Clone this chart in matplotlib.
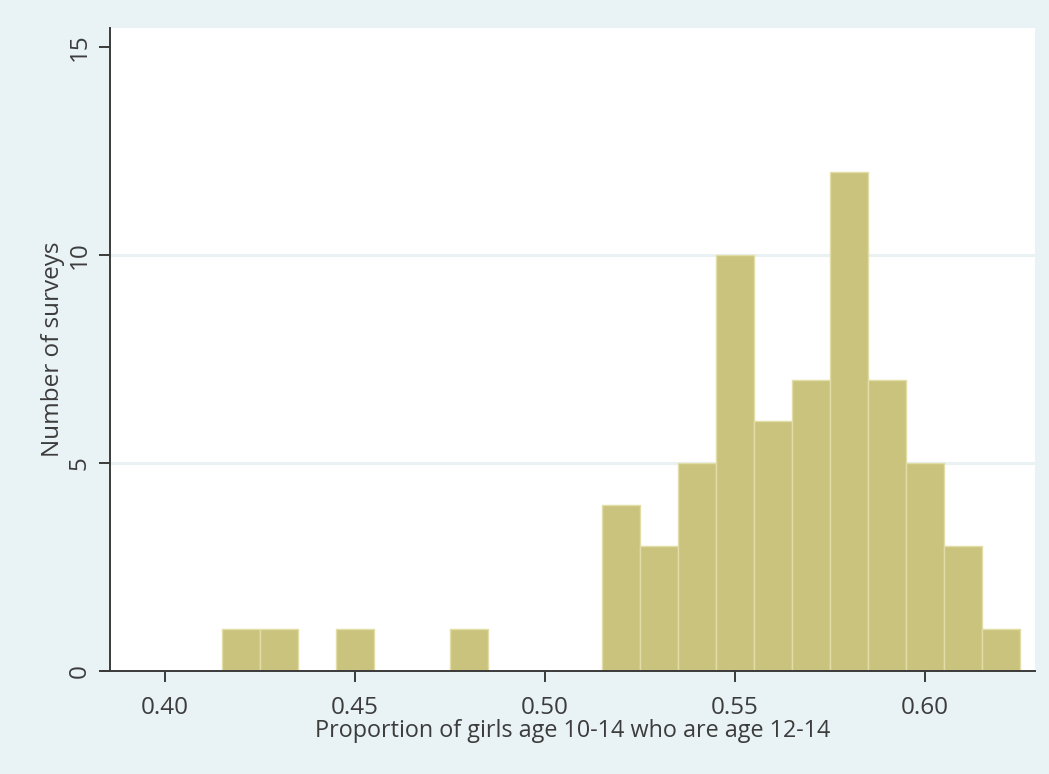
import matplotlib
matplotlib.use("Agg")
import matplotlib.pyplot as plt
import numpy as np

# Histogram of survey-level proportions, bin width 0.01
bin_left = [0.415, 0.425, 0.445, 0.475, 0.515, 0.525, 0.535, 0.545,
            0.555, 0.565, 0.575, 0.585, 0.595, 0.605, 0.615]
counts = [1, 1, 1, 1, 4, 3, 5, 10, 6, 7, 12, 7, 5, 3, 1]
bin_width = 0.01

x_ticks = [0.40, 0.45, 0.50, 0.55, 0.60]
x_tick_labels = ["0.40", "0.45", "0.50", "0.55", "0.60"]
y_ticks = [0, 5, 10, 15]
y_grid = [5, 10]

x_label = "Proportion of girls age 10-14 who are age 12-14"
y_label = "Number of surveys"

plt.rcParams['font.family'] = ['Open Sans', 'DejaVu Sans']

outer_bg = "#E9F2F5"
bar_color = "#CAC37E"
bar_edge = "#E2DDA6"
axis_color = "#3A3A3A"
text_color = "#3C3C3C"

fig = plt.figure(figsize=(10.49, 7.74), dpi=100)
fig.patch.set_facecolor(outer_bg)
ax = fig.add_axes([110 / 1049, (774 - 671) / 774, (1035 - 110) / 1049, (671 - 28) / 774])
ax.set_facecolor("white")

for g in y_grid:
    ax.axhline(g, color="#EAF1F3", lw=2.2, zorder=0)

ax.bar(bin_left, counts, width=bin_width, align="edge", color=bar_color,
       edgecolor=bar_edge, linewidth=1.0, zorder=2)

ax.set_xlim(0.3855, 0.629)
ax.set_ylim(0, 15.46)

ax.set_xticks(x_ticks)
ax.set_xticklabels(x_tick_labels)
ax.set_yticks(y_ticks)
ax.set_yticklabels([str(v) for v in y_ticks], rotation=90, va="center")

for side in ("top", "right"):
    ax.spines[side].set_visible(False)
for side in ("left", "bottom"):
    ax.spines[side].set_color(axis_color)
    ax.spines[side].set_linewidth(1.4)
ax.spines["bottom"].set_bounds(0.3837, 0.629)

ax.tick_params(axis="both", direction="out", length=8, width=1.4,
               color=axis_color, labelsize=17.5, labelcolor=text_color)
ax.tick_params(axis="x", pad=10)
ax.tick_params(axis="y", pad=5)

ax.set_xlabel(x_label, fontsize=16.8, color=text_color, labelpad=-1)
ax.set_ylabel(y_label, fontsize=17.5, color=text_color, labelpad=2)

fig.savefig("out.png", dpi=100, facecolor=outer_bg)
